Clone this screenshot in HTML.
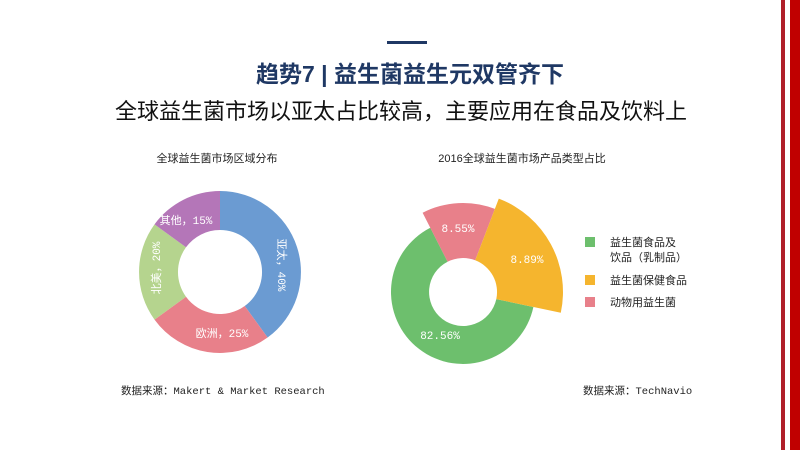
<!DOCTYPE html>
<html><head><meta charset="utf-8"><style>
html,body{margin:0;padding:0;background:#fff;}
svg{display:block;}
text{font-family:"Liberation Sans","Noto Sans CJK SC",sans-serif;}
.m{font-family:"Liberation Mono","Noto Sans CJK SC",monospace;}
</style></head><body>
<svg width="800" height="450" viewBox="0 0 800 450" xmlns="http://www.w3.org/2000/svg">
<rect width="800" height="450" fill="#fff"/>
<rect x="781" y="0" width="4" height="450" fill="#b0202a"/>
<rect x="790" y="0" width="10" height="450" fill="#c00000"/>
<rect x="387" y="41" width="40" height="3" fill="#1f3864"/>
<text x="410" y="82" text-anchor="middle" font-size="23" font-weight="bold" fill="#1f3864">趋势7 | 益生菌益生元双管齐下</text>
<text x="401" y="119" text-anchor="middle" font-size="22" fill="#111">全球益生菌市场以亚太占比较高，主要应用在食品及饮料上</text>

<text x="217" y="162" text-anchor="middle" font-size="11" fill="#222">全球益生菌市场区域分布</text>
<path d="M220,191 A81,81 0 0 1 267.6,337.5 L244.7,306 A42,42 0 0 0 220,230 Z" fill="#6b9bd2"/>
<path d="M267.6,337.5 A81,81 0 0 1 154.5,319.6 L186,296.7 A42,42 0 0 0 244.7,306 Z" fill="#e8808a"/>
<path d="M154.5,319.6 A81,81 0 0 1 154.5,224.4 L186,247.3 A42,42 0 0 0 186,296.7 Z" fill="#b5d48e"/>
<path d="M154.5,224.4 A81,81 0 0 1 220,191 L220,230 A42,42 0 0 0 186,247.3 Z" fill="#b476b8"/>
<text class="m" x="278" y="265" text-anchor="middle" font-size="11" fill="#fff" transform="rotate(90 278 265)">亚太，40%</text>
<text class="m" x="160" y="268" text-anchor="middle" font-size="11" fill="#fff" transform="rotate(-90 160 268)">北美，20%</text>
<text class="m" x="222" y="337" text-anchor="middle" font-size="11" fill="#fff">欧洲，25%</text>
<text class="m" x="186" y="224" text-anchor="middle" font-size="11" fill="#fff">其他，15%</text>
<text class="m" x="121" y="394" font-size="10.5" fill="#222">数据来源：Makert &amp; Market Research</text>

<text x="522" y="162" text-anchor="middle" font-size="11" fill="#222">2016全球益生菌市场产品类型占比</text>
<path d="M533.4,307 A72,72 0 1 1 430.3,227.8 L447.6,261.7 A34,34 0 1 0 496.3,299.1 Z" fill="#6dbf6d"/>
<path d="M422.6,212.7 A89,89 0 0 1 494.9,208.9 L475.2,260.3 A34,34 0 0 0 447.6,261.7 Z" fill="#e8808a"/>
<path d="M498.8,198.6 A100,100 0 0 1 560.8,312.8 L496.3,299.1 A34,34 0 0 0 475.2,260.3 Z" fill="#f5b52e"/>
<text class="m" x="458" y="232" text-anchor="middle" font-size="11" fill="#fff">8.55%</text>
<text class="m" x="527" y="263" text-anchor="middle" font-size="11" fill="#fff">8.89%</text>
<text class="m" x="440" y="339" text-anchor="middle" font-size="11" fill="#fff">82.56%</text>
<rect x="585" y="237" width="10" height="10" fill="#6dbf6d"/>
<text x="610" y="246" font-size="11" fill="#222">益生菌食品及</text>
<text x="610" y="261" font-size="11" fill="#222">饮品（乳制品）</text>
<rect x="585" y="275" width="10" height="10" fill="#f5b52e"/>
<text x="610" y="284" font-size="11" fill="#222">益生菌保健食品</text>
<rect x="585" y="297" width="10" height="10" fill="#e8808a"/>
<text x="610" y="306" font-size="11" fill="#222">动物用益生菌</text>
<text class="m" x="583" y="394" font-size="10.5" fill="#222">数据来源：TechNavio</text>
</svg>
</body></html>
